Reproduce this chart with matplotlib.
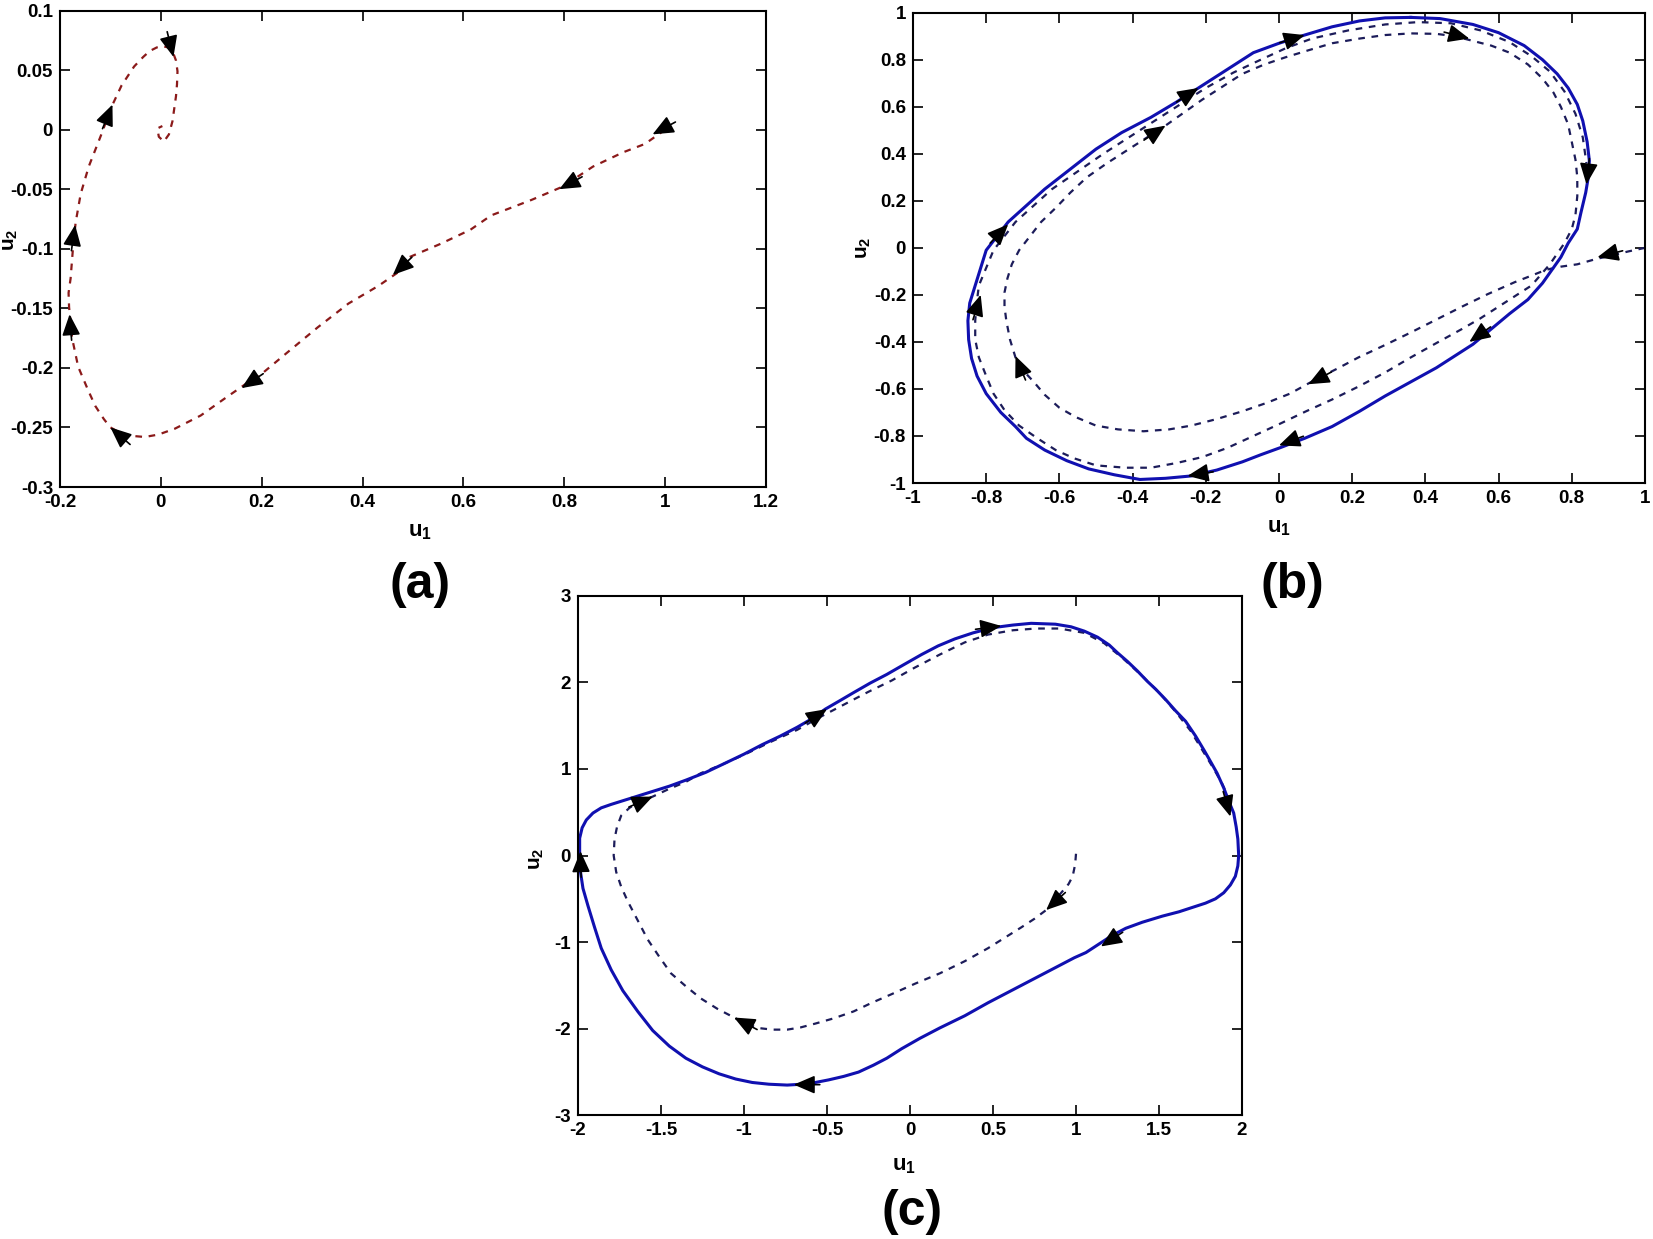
import numpy as np
import matplotlib
matplotlib.use("Agg")
import matplotlib.pyplot as plt

plt.rcParams['font.family'] = ['Liberation Sans', 'DejaVu Sans']
plt.rcParams['mathtext.fontset'] = 'custom'
plt.rcParams['mathtext.rm'] = 'Liberation Sans:bold'
plt.rcParams['mathtext.bf'] = 'Liberation Sans:bold'
plt.rcParams['mathtext.default'] = 'bf'

# ---- panel (a): single trajectory, from (1,0) spiralling to the origin
a_u1 = [1.0, 0.96, 0.917, 0.857, 0.796, 0.735, 0.655, 0.614, 0.554, 0.493, 0.473,
        0.432, 0.372, 0.311, 0.251, 0.2, 0.17, 0.129, 0.079, 0.028, -0.005, -0.032,
        -0.06, -0.083, -0.100, -0.113, -0.13, -0.144, -0.164, -0.176, -0.182, -0.183,
        -0.179, -0.174, -0.169, -0.159, -0.143, -0.118, -0.098, -0.078, -0.053,
        -0.035, -0.022, -0.008, 0.003, 0.015, 0.023, 0.030, 0.033, 0.032, 0.030,
        0.023, 0.016, 0.006, -0.004, -0.007, 0.003]
a_u2 = [0.0, -0.012, -0.019, -0.031, -0.048, -0.059, -0.072, -0.084, -0.096, -0.107,
        -0.119, -0.131, -0.146, -0.166, -0.187, -0.205, -0.213, -0.225, -0.240,
        -0.251, -0.256, -0.258, -0.257, -0.254, -0.250, -0.243, -0.232, -0.219,
        -0.199, -0.175, -0.149, -0.137, -0.125, -0.098, -0.078, -0.054, -0.031,
        -0.004, 0.019, 0.037, 0.053, 0.061, 0.066, 0.069, 0.070, 0.069, 0.066,
        0.058, 0.049, 0.038, 0.028, 0.007, -0.004, -0.010, -0.006, 0.001, 0.003]
a_arrow_u1 = [0.975, 0.790, 0.460, 0.160, -0.100, -0.181, -0.170, -0.096, 0.025]
a_arrow_u2 = [-0.004, -0.050, -0.122, -0.217, -0.250, -0.155, -0.080, 0.021, 0.061]

# ---- panel (b): limit cycle (solid) and transient (dashed)
b_cyc_u1 = [0.36, 0.44, 0.53, 0.60, 0.67, 0.72, 0.76, 0.79, 0.815, 0.83, 0.842,
            0.848, 0.845, 0.838, 0.825, 0.815, 0.79, 0.77, 0.72, 0.68, 0.63, 0.58,
            0.53, 0.43, 0.36, 0.29, 0.22, 0.145, 0.07, 0.003, -0.05, -0.10, -0.17,
            -0.24, -0.31, -0.38, -0.45, -0.52, -0.58, -0.64, -0.69, -0.72, -0.76,
            -0.80, -0.825, -0.84, -0.848, -0.85, -0.845, -0.83, -0.815, -0.80, -0.77,
            -0.74, -0.69, -0.64, -0.57, -0.50, -0.43, -0.35, -0.28, -0.21, -0.14,
            -0.07, 0.0, 0.07, 0.145, 0.22, 0.29, 0.36]
b_cyc_u2 = [0.98, 0.975, 0.95, 0.915, 0.86, 0.80, 0.74, 0.68, 0.61, 0.54, 0.45,
            0.37, 0.30, 0.235, 0.15, 0.08, 0.02, -0.04, -0.15, -0.22, -0.28, -0.345,
            -0.41, -0.51, -0.57, -0.63, -0.695, -0.76, -0.81, -0.85, -0.88, -0.91,
            -0.945, -0.97, -0.98, -0.985, -0.965, -0.94, -0.905, -0.86, -0.81, -0.76,
            -0.70, -0.62, -0.545, -0.47, -0.39, -0.31, -0.235, -0.16, -0.085, -0.01,
            0.05, 0.11, 0.18, 0.25, 0.335, 0.42, 0.49, 0.555, 0.62, 0.69, 0.76, 0.83,
            0.87, 0.905, 0.94, 0.965, 0.978, 0.98]
b_tr_u1 = [1.0, 0.955, 0.915, 0.865, 0.815, 0.77, 0.73, 0.69, 0.644, 0.57, 0.50,
           0.43, 0.36, 0.29, 0.217, 0.16, 0.10, 0.03, -0.035, -0.10, -0.17, -0.24,
           -0.30, -0.37, -0.44, -0.50, -0.555, -0.60, -0.64, -0.67, -0.70, -0.72,
           -0.735, -0.745, -0.75, -0.75, -0.742, -0.73, -0.71, -0.68, -0.65, -0.61,
           -0.57, -0.525, -0.47, -0.41, -0.36, -0.31, -0.26, -0.21, -0.155, -0.10,
           -0.04, 0.017, 0.08, 0.145, 0.22, 0.29, 0.36, 0.43, 0.48, 0.53, 0.58, 0.63,
           0.68, 0.72, 0.75, 0.77, 0.79, 0.80, 0.81, 0.815, 0.815, 0.81, 0.80, 0.78,
           0.76, 0.74, 0.69, 0.645, 0.60, 0.55, 0.50, 0.43, 0.36, 0.29, 0.217, 0.145,
           0.074, 0.0, -0.07, -0.14, -0.21, -0.28, -0.35, -0.42, -0.50, -0.56, -0.61,
           -0.66, -0.71, -0.75, -0.78, -0.80, -0.82, -0.83, -0.83, -0.826, -0.82,
           -0.80, -0.78, -0.75, -0.72, -0.67, -0.62, -0.55, -0.48, -0.41, -0.34,
           -0.27, -0.20, -0.125, -0.05, 0.02, 0.09, 0.19, 0.29, 0.38, 0.47, 0.55,
           0.63, 0.69, 0.74, 0.78, 0.81, 0.83, 0.84]
b_tr_u2 = [0.0, -0.015, -0.03, -0.048, -0.07, -0.08, -0.093, -0.118, -0.146, -0.197,
           -0.25, -0.305, -0.36, -0.413, -0.466, -0.513, -0.56, -0.62, -0.66, -0.695,
           -0.728, -0.756, -0.772, -0.78, -0.772, -0.756, -0.72, -0.68, -0.625,
           -0.57, -0.52, -0.466, -0.39, -0.31, -0.25, -0.19, -0.13, -0.07, -0.01,
           0.05, 0.11, 0.17, 0.235, 0.30, 0.36, 0.42, 0.47, 0.52, 0.575, 0.63, 0.685,
           0.74, 0.78, 0.81, 0.84, 0.87, 0.89, 0.905, 0.912, 0.91, 0.90, 0.88, 0.86,
           0.83, 0.78, 0.72, 0.66, 0.60, 0.525, 0.45, 0.375, 0.30, 0.22, 0.14, 0.08,
           0.02, -0.025, -0.07, -0.16, -0.205, -0.25, -0.30, -0.345, -0.405, -0.466,
           -0.53, -0.59, -0.645, -0.695, -0.75, -0.80, -0.85, -0.89, -0.915, -0.935,
           -0.935, -0.925, -0.895, -0.86, -0.81, -0.756, -0.69, -0.62, -0.545,
           -0.466, -0.39, -0.31, -0.235, -0.16, -0.085, -0.01, 0.05, 0.11, 0.18,
           0.25, 0.325, 0.40, 0.47, 0.54, 0.61, 0.68, 0.745, 0.80, 0.85, 0.89, 0.925,
           0.95, 0.96, 0.955, 0.925, 0.875, 0.815, 0.75, 0.665, 0.57, 0.47, 0.36]
b_cyc_arrow_u1 = [0.07, -0.22, -0.74, -0.815, 0.84, 0.52, 0.0, -0.25]
b_cyc_arrow_u2 = [0.905, 0.68, 0.10, -0.20, 0.27, -0.40, -0.84, -0.97]
b_tr_arrow_u1 = [0.52, -0.31, -0.72, 0.08, 0.87]
b_tr_arrow_u2 = [0.89, 0.52, -0.46, -0.58, -0.04]

# ---- panel (c): limit cycle (solid) and transient (dashed)
c_cyc_u1 = [0.5, 0.62, 0.73, 0.876, 0.97, 1.05, 1.13, 1.20, 1.25, 1.31, 1.37, 1.43,
            1.48, 1.54, 1.60, 1.66, 1.72, 1.77, 1.80, 1.85, 1.89, 1.92, 1.95, 1.965,
            1.975, 1.98, 1.975, 1.96, 1.93, 1.89, 1.84, 1.78, 1.70, 1.62, 1.52, 1.40,
            1.30, 1.22, 1.14, 1.06, 0.99, 0.88, 0.76, 0.62, 0.47, 0.33, 0.18, 0.06,
            -0.05, -0.14, -0.22, -0.31, -0.40, -0.49, -0.57, -0.65, -0.74, -0.85,
            -0.95, -1.05, -1.15, -1.25, -1.35, -1.45, -1.55, -1.64, -1.73, -1.80,
            -1.86, -1.90, -1.94, -1.97, -1.985, -1.99, -1.99, -1.975, -1.95, -1.91,
            -1.86, -1.80, -1.70, -1.55, -1.45, -1.35, -1.23, -1.12, -1.00, -0.89,
            -0.78, -0.68, -0.59, -0.51, -0.42, -0.34, -0.24, -0.14, -0.04, 0.07, 0.17,
            0.27, 0.38, 0.5]
c_cyc_u2 = [2.63, 2.66, 2.68, 2.67, 2.64, 2.59, 2.52, 2.43, 2.34, 2.24, 2.13, 2.01,
            1.92, 1.80, 1.67, 1.55, 1.38, 1.22, 1.12, 0.95, 0.78, 0.63, 0.49, 0.33,
            0.19, 0.0, -0.12, -0.24, -0.34, -0.43, -0.50, -0.55, -0.60, -0.65, -0.70,
            -0.77, -0.84, -0.92, -1.02, -1.12, -1.18, -1.29, -1.41, -1.55, -1.70,
            -1.85, -1.99, -2.11, -2.23, -2.34, -2.42, -2.50, -2.55, -2.59, -2.62,
            -2.64, -2.65, -2.64, -2.62, -2.58, -2.52, -2.44, -2.34, -2.20, -2.02,
            -1.80, -1.56, -1.32, -1.07, -0.83, -0.58, -0.38, -0.19, 0.0, 0.20, 0.32,
            0.41, 0.49, 0.55, 0.59, 0.65, 0.74, 0.80, 0.87, 0.96, 1.06, 1.17, 1.28,
            1.38, 1.48, 1.58, 1.69, 1.79, 1.88, 1.99, 2.09, 2.20, 2.32, 2.42, 2.50,
            2.57, 2.63]
c_tr_u1 = [1.0, 0.995, 0.98, 0.955, 0.92, 0.87, 0.82, 0.75, 0.67, 0.57, 0.47, 0.33,
           0.18, 0.03, -0.11, -0.23, -0.34, -0.46, -0.57, -0.66, -0.74, -0.83, -0.92,
           -1.0, -1.06, -1.16, -1.26, -1.35, -1.44, -1.51, -1.58, -1.64, -1.70, -1.74,
           -1.77, -1.785, -1.78, -1.765, -1.74, -1.69, -1.64, -1.55, -1.45, -1.35,
           -1.26, -1.12, -0.97, -0.83, -0.68, -0.54, -0.40, -0.25, -0.11, 0.03, 0.18,
           0.33, 0.47, 0.62, 0.76, 0.90, 1.05, 1.17, 1.28, 1.40, 1.51, 1.60, 1.69,
           1.76, 1.83, 1.88, 1.92]
c_tr_u2 = [0.02, -0.10, -0.24, -0.33, -0.41, -0.52, -0.63, -0.73, -0.83, -0.95,
           -1.07, -1.22, -1.36, -1.48, -1.60, -1.70, -1.80, -1.88, -1.94, -1.985,
           -2.01, -2.01, -1.99, -1.93, -1.87, -1.77, -1.65, -1.51, -1.36, -1.17,
           -0.97, -0.75, -0.53, -0.36, -0.19, 0.0, 0.19, 0.33, 0.46, 0.55, 0.61,
           0.68, 0.77, 0.85, 0.95, 1.06, 1.19, 1.32, 1.45, 1.60, 1.74, 1.89, 2.02,
           2.17, 2.32, 2.46, 2.55, 2.60, 2.62, 2.62, 2.57, 2.45, 2.28, 2.07, 1.86,
           1.66, 1.44, 1.22, 1.00, 0.83, 0.66]
c_cyc_arrow_u1 = [0.55, -0.5, 1.93, 1.15, -0.7, -1.985]
c_cyc_arrow_u2 = [2.65, 1.69, 0.45, -1.05, -2.645, 0.05]
c_tr_arrow_u1 = [0.82, -1.06, -1.55]
c_tr_arrow_u2 = [-0.63, -1.87, 0.68]

DPI = 100
fig = plt.figure(figsize=(16.53, 12.39), dpi=DPI)
W, H = 1653, 1239


def make_axes(left, top, right, bottom):
    return fig.add_axes([left / W, 1 - bottom / H, (right - left) / W, (bottom - top) / H])


def style(ax, xlim, ylim, xticks, yticks, xtl, ytl):
    ax.set_xlim(xlim)
    ax.set_ylim(ylim)
    ax.set_xticks(xticks)
    ax.set_yticks(yticks)
    ax.set_xticklabels(xtl)
    ax.set_yticklabels(ytl)
    ax.tick_params(direction='in', top=True, right=True, length=7, width=1.2,
                   labelsize=13.5, pad=5)
    for lab in ax.get_xticklabels() + ax.get_yticklabels():
        lab.set_fontweight('bold')
    for s in ax.spines.values():
        s.set_linewidth(1.5)


def add_arrows(ax, cx, cy, hx, hy, L=26):
    pts = ax.transData.transform(np.column_stack([cx, cy]))
    for x, y in zip(hx, hy):
        h = ax.transData.transform((x, y))
        i = int(np.argmin(np.hypot(pts[:, 0] - h[0], pts[:, 1] - h[1])))
        j0, j1 = max(i - 1, 0), min(i + 1, len(pts) - 1)
        d = pts[j1] - pts[j0]
        d = d / np.hypot(*d)
        ax.annotate('', xy=(x, y), xytext=(-d[0] * L, -d[1] * L),
                    textcoords='offset pixels',
                    arrowprops=dict(arrowstyle='-|>,head_length=0.65,head_width=0.28',
                                    color='k', lw=1.2, mutation_scale=20,
                                    shrinkA=0, shrinkB=0))


dash = (0, (3, 3))

# (a)
ax1 = make_axes(60, 10.5, 766, 487)
style(ax1, (-0.2, 1.2), (-0.3, 0.1),
      np.arange(-0.2, 1.21, 0.2), np.arange(-0.3, 0.101, 0.05),
      ['-0.2', '0', '0.2', '0.4', '0.6', '0.8', '1', '1.2'],
      ['-0.3', '-0.25', '-0.2', '-0.15', '-0.1', '-0.05', '0', '0.05', '0.1'])
ax1.plot(a_u1, a_u2, color='#8b1a1a', lw=1.6, linestyle=dash)
add_arrows(ax1, a_u1, a_u2, a_arrow_u1, a_arrow_u2)

# (b)
ax2 = make_axes(913, 12.7, 1645, 483)
style(ax2, (-1, 1), (-1, 1),
      np.arange(-1, 1.01, 0.2), np.arange(-1, 1.01, 0.2),
      ['-1', '-0.8', '-0.6', '-0.4', '-0.2', '0', '0.2', '0.4', '0.6', '0.8', '1'],
      ['-1', '-0.8', '-0.6', '-0.4', '-0.2', '0', '0.2', '0.4', '0.6', '0.8', '1'])
ax2.plot(b_tr_u1, b_tr_u2, color='#1c1c5a', lw=1.6, linestyle=dash)
ax2.plot(b_cyc_u1, b_cyc_u2, color='#1010b0', lw=2.2)
add_arrows(ax2, b_cyc_u1, b_cyc_u2, b_cyc_arrow_u1, b_cyc_arrow_u2)
add_arrows(ax2, b_tr_u1, b_tr_u2, b_tr_arrow_u1, b_tr_arrow_u2)

# (c)
ax3 = make_axes(578, 595.6, 1242, 1115.4)
style(ax3, (-2, 2), (-3, 3),
      np.arange(-2, 2.01, 0.5), np.arange(-3, 3.01, 1),
      ['-2', '-1.5', '-1', '-0.5', '0', '0.5', '1', '1.5', '2'],
      ['-3', '-2', '-1', '0', '1', '2', '3'])
ax3.plot(c_tr_u1, c_tr_u2, color='#1c1c5a', lw=1.6, linestyle=dash)
ax3.plot(c_cyc_u1, c_cyc_u2, color='#1010b0', lw=2.2)
add_arrows(ax3, c_cyc_u1, c_cyc_u2, c_cyc_arrow_u1, c_cyc_arrow_u2)
add_arrows(ax3, c_tr_u1, c_tr_u2, c_tr_arrow_u1, c_tr_arrow_u2)


# axis labels and panel letters (figure pixel positions)
def ftext(x, y, s, **kw):
    fig.text(x / W, 1 - y / H, s, ha='center', va='center', **kw)


for x, y in [(420, 532), (1279, 527), (904, 1165)]:
    ftext(x, y, r'u$_1$', fontsize=16, fontweight='bold')
for x, y in [(10, 240), (864, 248), (537, 859)]:
    ftext(x, y, r'u$_2$', fontsize=15, fontweight='bold', rotation=90)
ftext(420, 585, '(a)', fontsize=36, fontweight='bold')
ftext(1292, 585, '(b)', fontsize=36, fontweight='bold')
ftext(912, 1212, '(c)', fontsize=36, fontweight='bold')

fig.savefig('out.png', dpi=DPI)
